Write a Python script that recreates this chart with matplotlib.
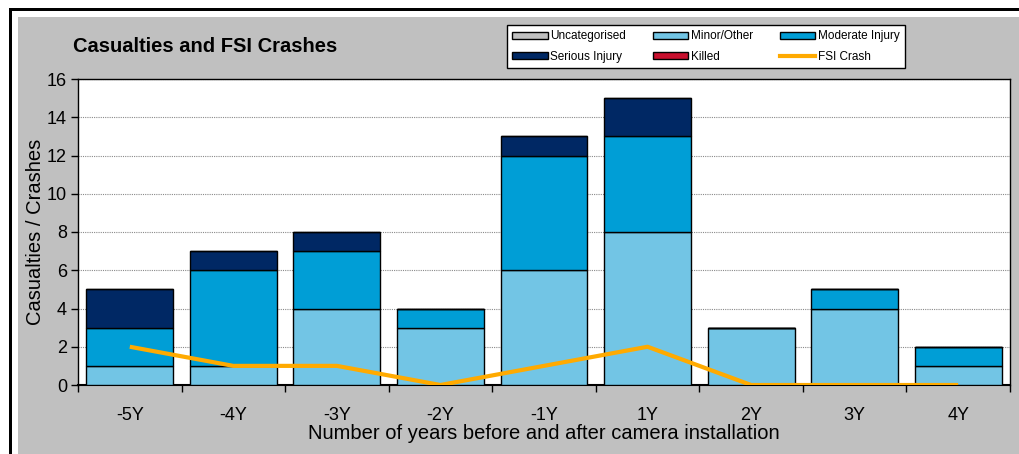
import numpy as np
import matplotlib.pyplot as plt
from matplotlib.patches import Rectangle
from matplotlib.lines import Line2D

years = ["-5Y", "-4Y", "-3Y", "-2Y", "-1Y", "1Y", "2Y", "3Y", "4Y"]
uncategorised = [0, 0, 0, 0, 0, 0, 0, 0, 0]
minor = [1, 1, 4, 3, 6, 8, 3, 4, 1]
moderate = [2, 5, 3, 1, 6, 5, 0, 1, 1]
serious = [2, 1, 1, 0, 1, 2, 0, 0, 0]
killed = [0, 0, 0, 0, 0, 0, 0, 0, 0]
fsi_crash = [2, 1, 1, 0, 1, 2, 0, 0, 0]

narrow = ["Liberation Sans Narrow", "Liberation Sans", "DejaVu Sans"]
plt.rcParams["font.family"] = ["Liberation Sans", "DejaVu Sans"]

W, H = 1020, 454
fig = plt.figure(figsize=(W / 100, H / 100), dpi=100, facecolor="white")

# outer frame: black border lines and gray chart area
fig.patches.append(Rectangle((18 / W, 0), 1, 1 - 17 / H, transform=fig.transFigure,
                             facecolor="#C0C0C0", edgecolor="none", zorder=-10))
fig.patches.append(Rectangle((9 / W, 0), 3 / W, 1 - 8 / H, transform=fig.transFigure,
                             facecolor="black", edgecolor="none", zorder=-9))
fig.patches.append(Rectangle((9 / W, 1 - 11 / H), 1, 3 / H, transform=fig.transFigure,
                             facecolor="black", edgecolor="none", zorder=-9))

ax = fig.add_axes([78 / W, (H - 385) / H, 932 / W, 306 / H])
ax.set_facecolor("white")

x = np.arange(len(years)) + 0.5
width = 0.84
colors = {"Uncategorised": "#C0C0C0", "Minor/Other": "#72C5E5",
          "Moderate Injury": "#009ED6", "Serious Injury": "#002864",
          "Killed": "#C8102E"}

bottom = np.zeros(len(years))
for name, vals in [("Uncategorised", uncategorised), ("Minor/Other", minor),
                   ("Moderate Injury", moderate), ("Serious Injury", serious),
                   ("Killed", killed)]:
    vals = np.array(vals, dtype=float)
    ax.bar(x, vals, width, bottom=bottom, color=colors[name],
           edgecolor="black", linewidth=1, zorder=3)
    bottom += vals

ax.plot(x, fsi_crash, color="#FFAA00", linewidth=3, zorder=4, solid_capstyle="butt")

ax.set_xlim(0, len(years))
ax.set_ylim(0, 16)
ax.set_yticks(range(0, 17, 2))
ax.set_xticks(range(0, len(years) + 1))
ax.set_xticklabels([])
ax.set_xticks(x, minor=True)
ax.set_xticklabels(years, minor=True, fontsize=13, family=narrow)
ax.tick_params(axis="x", which="major", direction="out", length=5, width=1)
ax.tick_params(axis="x", which="minor", length=0, pad=16)
ax.tick_params(axis="y", direction="out", length=5, width=1, labelsize=13, pad=3)
for lab in ax.get_yticklabels():
    lab.set_family(narrow)

ax.grid(axis="y", color="#8A8A8A", linestyle=(0, (1, 1)), linewidth=0.8, zorder=0)
for sp in ax.spines.values():
    sp.set_linewidth(1)
    sp.set_color("black")
ax.spines["bottom"].set_linewidth(1.5)

ax.set_ylabel("Casualties / Crashes", fontsize=14.5, labelpad=1)
ax.set_xlabel("Number of years before and after camera installation", fontsize=14.5)
ax.xaxis.set_label_coords(0.5, -0.128)

fig.text(73 / W, 1 - 47 / H, "Casualties and FSI Crashes", fontsize=14.5,
         fontweight="bold", va="center", ha="left")

handles = [
    Rectangle((0, 0), 1, 1, facecolor=colors["Uncategorised"], edgecolor="black"),
    Rectangle((0, 0), 1, 1, facecolor=colors["Serious Injury"], edgecolor="black"),
    Rectangle((0, 0), 1, 1, facecolor=colors["Minor/Other"], edgecolor="black"),
    Rectangle((0, 0), 1, 1, facecolor=colors["Killed"], edgecolor="black"),
    Rectangle((0, 0), 1, 1, facecolor=colors["Moderate Injury"], edgecolor="black"),
    Line2D([0], [0], color="#FFAA00", linewidth=3),
]
labels = ["Uncategorised", "Serious Injury", "Minor/Other", "Killed",
          "Moderate Injury", "FSI Crash"]
leg = fig.legend(handles, labels, ncol=3, loc="upper left",
                 bbox_to_anchor=(507 / W, 1 - 25 / H), fontsize=8.5,
                 frameon=True, fancybox=False, edgecolor="black",
                 facecolor="white", framealpha=1,
                 handlelength=3.0, handleheight=0.55, handletextpad=0.2,
                 columnspacing=2.3, labelspacing=0.7, borderpad=0.45,
                 borderaxespad=0)
leg.get_frame().set_linewidth(1)

fig.savefig("out.png", dpi=100)
